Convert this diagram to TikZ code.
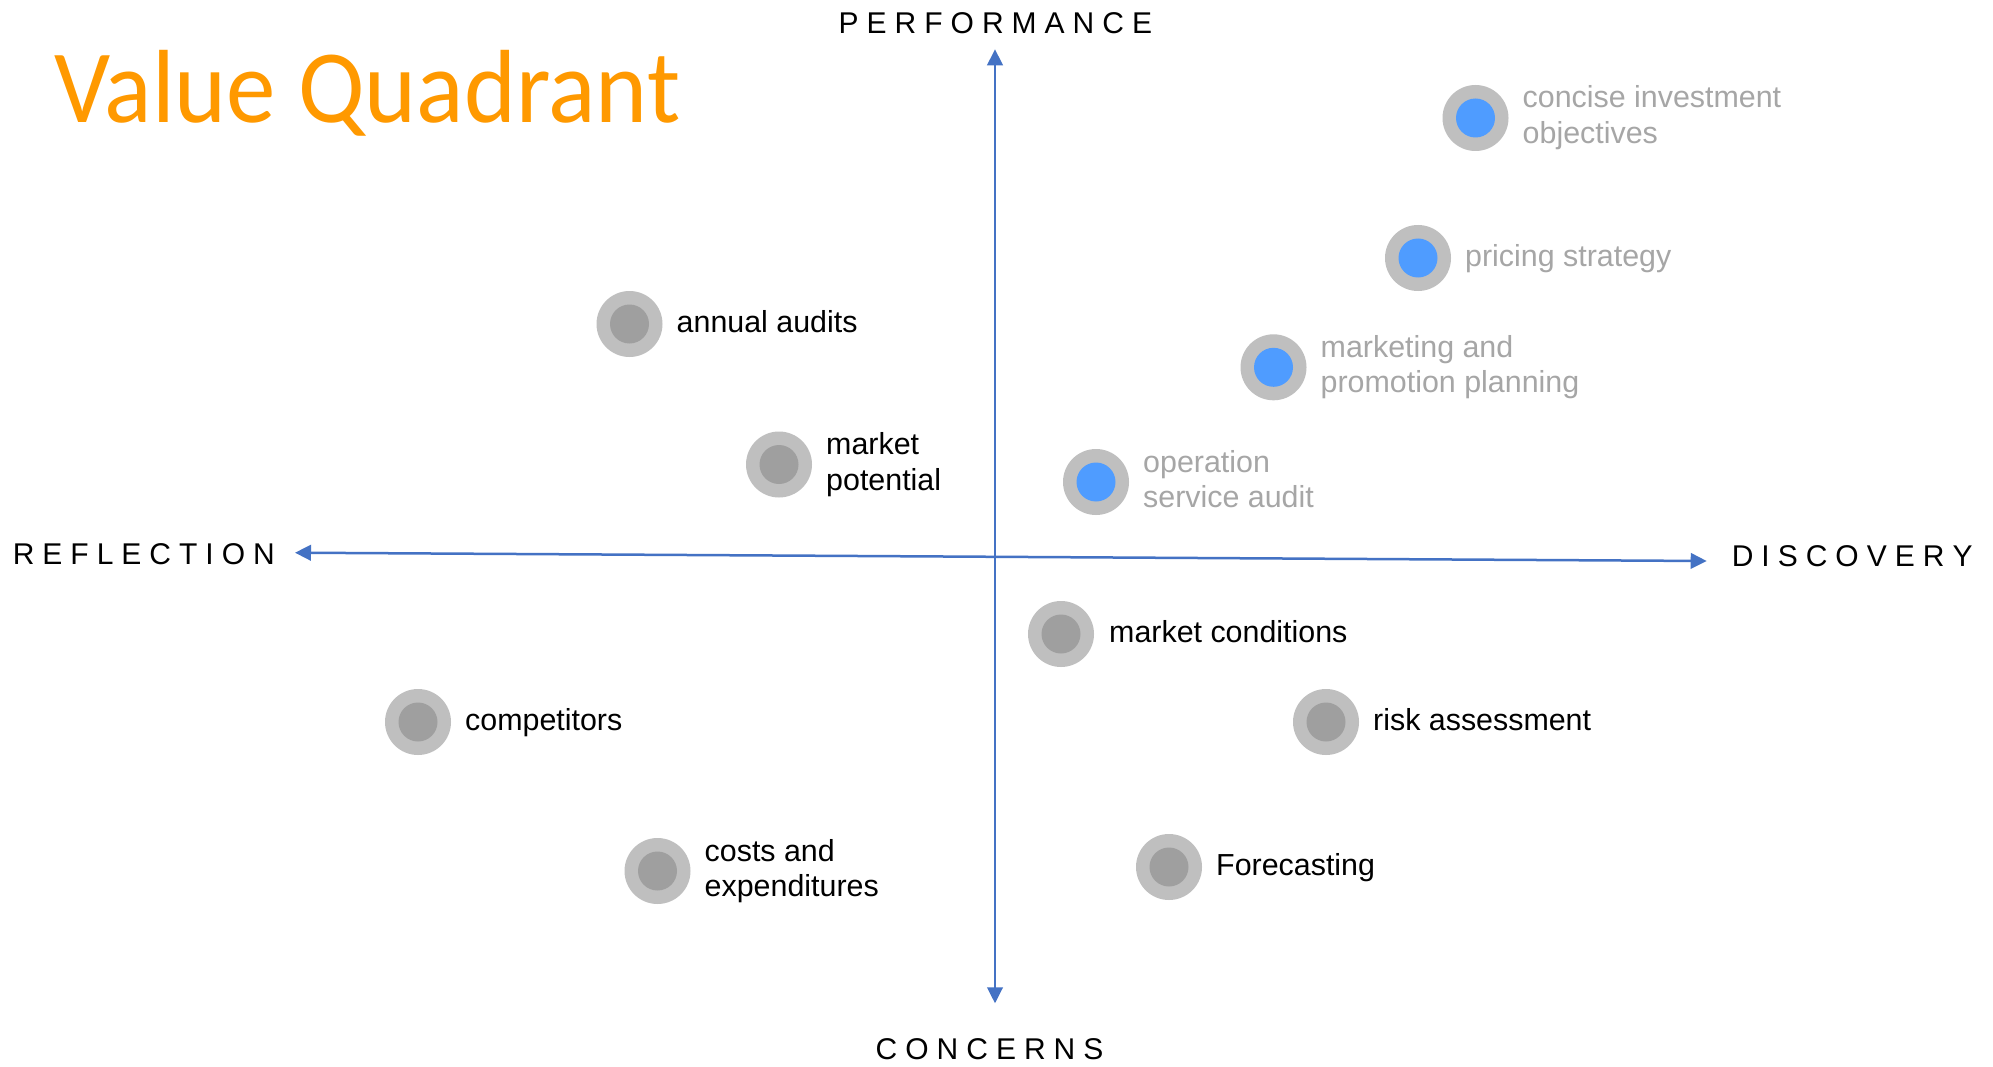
\documentclass[tikz,border=0pt]{standalone}
\usepackage{fontspec}
\setmainfont{Liberation Sans}
\newfontfamily\titlefont{Carlito}
\usetikzlibrary{arrows.meta}
\definecolor{axisblue}{HTML}{4472C4}
\definecolor{ringgray}{HTML}{BFBFBF}
\definecolor{coregray}{HTML}{9F9F9F}
\definecolor{coreblue}{HTML}{4F9CFF}
\definecolor{labelgray}{HTML}{A6A6A6}
\definecolor{titleorange}{HTML}{FF9900}
\newcommand\spacedword[1]{\spacedaux#1\relax}
\def\spacedaux#1{\ifx#1\relax\else#1\kern8pt\expandafter\spacedaux\fi}
\newcommand\twolines[2]{\vtop{\baselineskip=35.5pt\hbox{#1}\hbox{#2}}}
\tikzset{
  ring/.style={circle, fill=ringgray, minimum size=66pt, inner sep=0pt},
  core/.style={circle, fill=coregray, minimum size=39pt, inner sep=0pt},
  bluecore/.style={core, fill=coreblue},
  lbl/.style={anchor=base west, inner sep=0pt, font=\fontsize{30.4}{36}\selectfont},
  darklbl/.style={lbl, text=black},
  lightlbl/.style={lbl, text=labelgray},
  axislbl/.style={anchor=base west, inner sep=0pt, text=black, font=\fontsize{30}{36}\selectfont},
  axisline/.style={draw=axisblue, line width=2.5pt, -{Triangle[length=16pt,width=15.5pt]}}
}
\begin{document}
\begin{tikzpicture}[x=1pt,y=-1pt]
\useasboundingbox[fill=white] (0,0) rectangle (1993,1067);
% title
\node[anchor=base west, inner sep=0pt, text=titleorange, xscale=0.951, font=\titlefont\fontsize{104}{120}\selectfont] (title) at (54,122.7) {Value Quadrant};
% axes
\coordinate (O) at (995,556.8);
\coordinate (top) at (995,49.3);
\coordinate (bottom) at (995,1003.3);
\coordinate (left) at (295,552.7);
\coordinate (right) at (1706.7,561);
\draw[axisline] (O) -- (top);
\draw[axisline] (O) -- (bottom);
\draw[axisline] (O) -- (left);
\draw[axisline] (O) -- (right);
% axis labels
\node[axislbl] (perf) at (838.5,33.3) {\spacedword{PERFORMANCE}};
\node[axislbl] (refl) at (12.6,564) {\spacedword{REFLECTION}};
\node[axislbl] (disc) at (1731.6,566) {\spacedword{DISCOVERY}};
\node[axislbl] (conc) at (875.5,1059) {\spacedword{CONCERNS}};
% bubbles: annual audits
\node[ring] (aa) at (629.5,324) {};
\node[core] (aac) at (aa) {};
\node[darklbl] (aal) at (676.5,332) {annual audits};
% market potential
\node[ring] (mp) at (779,464.5) {};
\node[core] (mpc) at (mp) {};
\node[darklbl] (mpl) at (826,454.5) {\twolines{market}{potential}};
% concise investment objectives
\node[ring] (ci) at (1475.5,118) {};
\node[bluecore] (cic) at (ci) {};
\node[lightlbl] (cil) at (1522.5,108) {\twolines{concise investment}{objectives}};
% pricing strategy
\node[ring] (ps) at (1418,258) {};
\node[bluecore] (psc) at (ps) {};
\node[lightlbl] (psl) at (1465,266) {pricing strategy};
% marketing and promotion planning
\node[ring] (mk) at (1273.5,367.3) {};
\node[bluecore] (mkc) at (mk) {};
\node[lightlbl] (mkl) at (1320.5,357) {\twolines{marketing and}{promotion planning}};
% operation service audit
\node[ring] (os) at (1096,482) {};
\node[bluecore] (osc) at (os) {};
\node[lightlbl] (osl) at (1143,472) {\twolines{operation}{service audit}};
% competitors
\node[ring] (cp) at (418,722) {};
\node[core] (cpc) at (cp) {};
\node[darklbl] (cpl) at (465,730) {competitors};
% costs and expenditures
\node[ring] (ce) at (657.5,871) {};
\node[core] (cec) at (ce) {};
\node[darklbl] (cel) at (704.5,861) {\twolines{costs and}{expenditures}};
% market conditions
\node[ring] (mc) at (1061,634) {};
\node[core] (mcc) at (mc) {};
\node[darklbl] (mcl) at (1109,642) {market conditions};
% risk assessment
\node[ring] (ra) at (1326,722) {};
\node[core] (rac) at (ra) {};
\node[darklbl] (ral) at (1373,730) {risk assessment};
% Forecasting
\node[ring] (fc) at (1169,867) {};
\node[core] (fcc) at (fc) {};
\node[darklbl] (fcl) at (1216,875) {Forecasting};
\end{tikzpicture}
\end{document}
